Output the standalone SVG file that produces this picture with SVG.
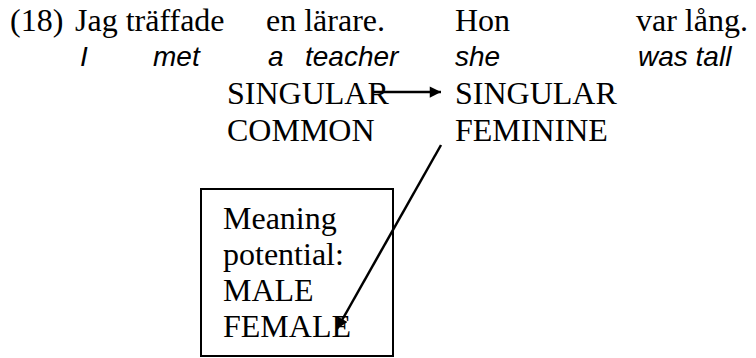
<svg xmlns="http://www.w3.org/2000/svg" width="756" height="358" viewBox="0 0 756 358">
<defs>
<style>
.s{font-family:"Liberation Serif","Times New Roman",serif;font-size:32px;fill:#000}
.i{font-family:"Liberation Sans","Arial",sans-serif;font-style:italic;font-size:28px;fill:#000}
.ln{stroke:#000;stroke-width:2.5;fill:none}
</style>
<marker id="ah" viewBox="0 0 10 10" refX="10" refY="5" markerWidth="5.5" markerHeight="4.5" markerUnits="strokeWidth" orient="auto">
<path d="M0,0 L10,5 L0,10 z" fill="#000"/>
</marker>
</defs>
<rect width="756" height="358" fill="#fff"/>
<g id="gloss">
<text class="s" x="10" y="31">(18)</text>
<text class="s" x="75" y="31">Jag träffade</text>
<text class="s" x="266" y="31">en lärare.</text>
<text class="s" x="455" y="31">Hon</text>
<text class="s" x="636" y="31">var lång.</text>
<text class="i" x="80" y="66">I</text>
<text class="i" x="153" y="66">met</text>
<text class="i" x="268" y="66">a</text>
<text class="i" x="305" y="66">teacher</text>
<text class="i" x="455" y="66">she</text>
<text class="i" x="638" y="66">was tall</text>
</g>
<g id="teacher-features">
<text class="s" x="227" y="104">SINGULAR</text>
<text class="s" x="227" y="141">COMMON</text>
</g>
<g id="she-features">
<text class="s" x="455" y="104">SINGULAR</text>
<text class="s" x="455" y="141">FEMININE</text>
</g>
<g id="meaning-box">
<rect x="201" y="189" width="192" height="167" fill="none" stroke="#000" stroke-width="2"/>
<text class="s" x="223" y="229">Meaning</text>
<text class="s" x="223" y="265">potential:</text>
<text class="s" x="223" y="301">MALE</text>
<text class="s" x="223" y="337">FEMALE</text>
</g>
<g id="connectors">
<line class="ln" x1="372" y1="92" x2="441" y2="92" marker-end="url(#ah)"/>
<line class="ln" x1="441" y1="145" x2="337" y2="329" marker-end="url(#ah)"/>
</g>
</svg>
